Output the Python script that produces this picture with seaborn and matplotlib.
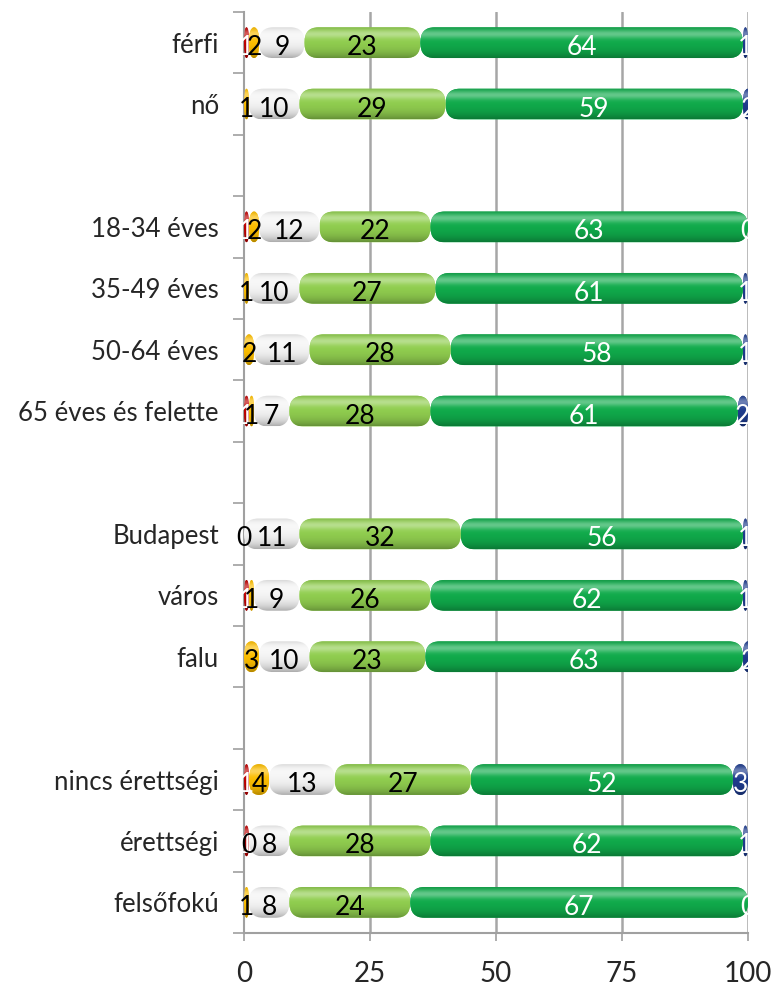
import numpy as np
import pandas as pd
import seaborn as sns
import matplotlib.pyplot as plt
from matplotlib.patches import FancyBboxPatch
from matplotlib.colors import to_rgb

# rows of the chart (gaps are empty rows between the groups)
row_order = ["férfi", "nő", "gap1",
             "18-34 éves", "35-49 éves", "50-64 éves", "65 éves és felette", "gap2",
             "Budapest", "város", "falu", "gap3",
             "nincs érettségi", "érettségi", "felsőfokú"]
categories = [r for r in row_order if not r.startswith("gap")]

red = [1, 0, 1, 0, 0, 1, 0, 1, 0, 1, 1, 0]
yellow = [2, 1, 2, 1, 2, 1, 0, 1, 3, 4, 0, 1]
white = [9, 10, 12, 10, 11, 7, 11, 9, 10, 13, 8, 8]
lightgreen = [23, 29, 22, 27, 28, 28, 32, 26, 23, 27, 28, 24]
green = [64, 59, 63, 61, 58, 61, 56, 62, 63, 52, 62, 67]
blue = [1, 2, 0, 1, 1, 2, 1, 1, 2, 3, 1, 0]

series = [red, yellow, white, lightgreen, green, blue]
colors = ["#c00000", "#ffc000", "#f7f7f7", "#92d050", "#10ad4c", "#1f3d8f"]
text_colors = ["white", "black", "black", "black", "white", "white"]

sns.set_style("white")
plt.rcParams["font.family"] = ["Lato", "DejaVu Sans"]

fig, ax = plt.subplots(figsize=(7.78, 9.99), dpi=100)
fig.subplots_adjust(left=0.3136, right=0.9614, top=0.988, bottom=0.066)

cum = np.cumsum(np.array(series), axis=0)

# cumulative layers, widest first so every layer has its own container
layer_containers = {}
for i in range(len(series) - 1, -1, -1):
    df = pd.DataFrame({"row": categories, "cum": cum[i]})
    n_before = len(ax.containers)
    sns.barplot(data=df, x="cum", y="row", order=row_order, color=colors[i],
                width=0.5, orient="h", ax=ax, zorder=2)
    layer_containers[i] = ax.containers[n_before]


def row_of(p):
    return int(round(p.get_y() + p.get_height() / 2))


right_edges = {i: {row_of(p): p.get_width() for p in layer_containers[i]}
               for i in layer_containers}


def gradient(base, n=64):
    t = np.linspace(0, 1, n)[:, None]
    rgb = np.array(to_rgb(base))[None, :]
    shade = 0.3 * t ** 4 + 0.12 * (1 - t) ** 8
    high = 0.35 * np.exp(-((t - 0.22) / 0.14) ** 2)
    c = rgb * (1 - shade)
    c = c + (1 - c) * high
    img = np.ones((n, 2, 4))
    img[:, :, :3] = c[:, None, :]
    return img


for i in range(len(series)):
    for p in layer_containers[i]:
        p.set_visible(False)
        r = row_of(p)
        x1 = p.get_width()
        x0 = right_edges[i - 1][r] if i > 0 else 0.0
        w = x1 - x0
        y0, h = p.get_y(), p.get_height()
        val = series[i][categories.index(row_order[r])]
        if w > 0:
            rx = min(2.8, w / 2)
            ry = 0.24
            fb = FancyBboxPatch((x0, y0), w, h,
                                boxstyle=f"round,pad=0,rounding_size={rx}",
                                mutation_aspect=ry / rx,
                                facecolor=colors[i], edgecolor="none", zorder=2)
            ax.add_patch(fb)
            im = ax.imshow(gradient(colors[i]), extent=(x0, x1, y0 + h, y0),
                           aspect="auto", origin="upper", zorder=3)
            im.set_clip_path(fb)
        elif i == 0:
            continue
        ax.text(x0 + w / 2, y0 + h / 2 + 0.08, f"{val}", ha="center", va="center",
                fontsize=19, color=text_colors[i], zorder=5 + i)

ax.set_xlim(0, 100)
ax.set_ylim(len(row_order) - 0.5, -0.5)
ax.set_xlabel("")
ax.set_ylabel("")

ax.set_xticks([0, 25, 50, 75, 100])
ax.set_xticklabels(["0", "25", "50", "75", "100"], fontsize=20)
ax.tick_params(axis="x", direction="out", length=6, width=1.2, color="#a0a0a0",
               pad=14, bottom=True)

ax.set_yticks(range(len(row_order)))
ax.set_yticklabels(["" if r.startswith("gap") else r for r in row_order], fontsize=18.5)
ax.tick_params(axis="y", which="major", length=0, pad=18)
ax.set_yticks(np.arange(-0.5, len(row_order), 1), minor=True)
ax.tick_params(axis="y", which="minor", direction="out", length=8, width=1.2,
               color="#a0a0a0", left=True)

for v in [25, 50, 75, 100]:
    ax.axvline(v, color="#a6a6a6", lw=1.8, zorder=1)

for s in ["top", "right"]:
    ax.spines[s].set_visible(False)
for s in ["left", "bottom"]:
    ax.spines[s].set_color("#a0a0a0")
    ax.spines[s].set_linewidth(1.5)

fig.savefig("out.png", dpi=100)
